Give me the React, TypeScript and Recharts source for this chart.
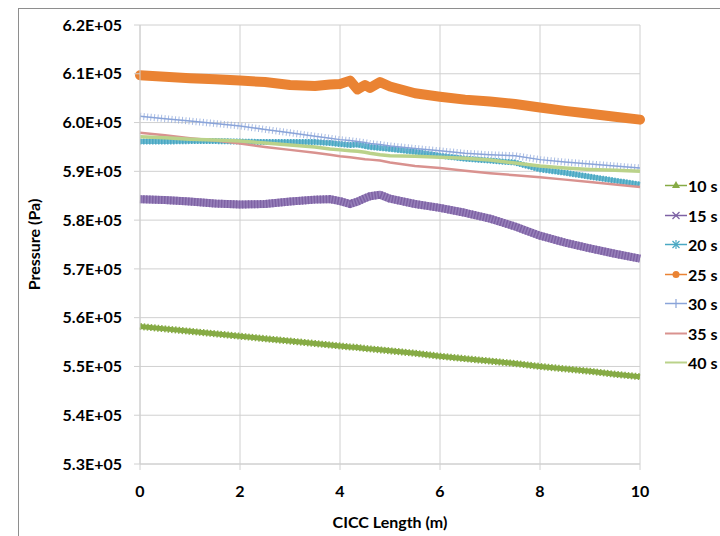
import React from "react";
import { LineChart, Line, XAxis, YAxis, CartesianGrid } from "recharts";

if (typeof document !== "undefined") {
  document.body.style.margin = "0";
  document.body.style.overflow = "hidden";
}

const xs = [0, 0.5, 1, 1.5, 2, 2.5, 3, 3.5, 3.8, 4, 4.2, 4.35, 4.5, 4.6, 4.8, 5, 5.5, 6, 6.5, 7, 7.5, 8, 8.5, 9, 9.5, 10];

const s10 = [558200, 557700, 557200, 556700, 556200, 555700, 555200, 554700, 554400, 554200, 554000, 553900, 553700, 553600, 553400, 553200, 552700, 552100, 551600, 551100, 550600, 550000, 549500, 549000, 548400, 547900];
const s15 = [584300, 584100, 583800, 583400, 583200, 583300, 583800, 584200, 584300, 583900, 583300, 583800, 584500, 584900, 585200, 584400, 583300, 582500, 581500, 580300, 578700, 576800, 575400, 574200, 573100, 572100];
const s20 = [596100, 596100, 596200, 596200, 596100, 596000, 596000, 596000, 595800, 595600, 595400, 595500, 595200, 595000, 594800, 594600, 594000, 593200, 592600, 592200, 591800, 590400, 589700, 588900, 588100, 587300];
const s25 = [609700, 609400, 609100, 608900, 608600, 608300, 607700, 607500, 607800, 607900, 608600, 606800, 607700, 607100, 608300, 607400, 606000, 605300, 604700, 604300, 603800, 603100, 602400, 601800, 601200, 600600];
const s30 = [601300, 600800, 600300, 599800, 599300, 598600, 597900, 597200, 596800, 596500, 596300, 596100, 595900, 595700, 595500, 595200, 594700, 594200, 593700, 593400, 593200, 592400, 591900, 591500, 591100, 590700];
const s35 = [597900, 597400, 596800, 596300, 595700, 595000, 594400, 593800, 593400, 593100, 592900, 592700, 592500, 592400, 592200, 591800, 591100, 590700, 590100, 589600, 589200, 588800, 588300, 587800, 587300, 586800];
const s40 = [597100, 596900, 596600, 596400, 596200, 595800, 595400, 595000, 594600, 594400, 594200, 594100, 593900, 593700, 593400, 593200, 593100, 592900, 592700, 592300, 591700, 591100, 590700, 590400, 590200, 590000];

const seriesNames = ["10 s", "15 s", "20 s", "25 s", "30 s", "35 s", "40 s"];
const xTicks = [0, 2, 4, 6, 8, 10];
const yTicks = [530000, 540000, 550000, 560000, 570000, 580000, 590000, 600000, 610000, 620000];

const data = xs.map((x, i) => ({
  x,
  s10: s10[i],
  s15: s15[i],
  s20: s20[i],
  s25: s25[i],
  s30: s30[i],
  s35: s35[i],
  s40: s40[i],
}));

const FONT = "Lato, 'Open Sans', sans-serif";
const C10 = "#86AB45";
const C15 = "#7E62A4";
const C20 = "#4AA8C3";
const C25 = "#EA8333";
const C30 = "#8AA4D9";
const C35 = "#D9928F";
const C40 = "#BAD28A";
const GRID = "#D0D0D0";

const fmt = (v: number) => (v / 100000).toFixed(1) + "E+05";

const YTitle = (props: any) => {
  const vb = props.viewBox || { x: 0, y: 0, width: 0, height: 0 };
  const cx = vb.x + 25;
  const cy = vb.y + vb.height / 2;
  return (
    <text x={cx} y={cy} transform={`rotate(-90 ${cx} ${cy})`} textAnchor="middle" dominantBaseline="central" fontFamily={FONT} fontWeight={700} fontSize={16} fill="#000">
      Pressure (Pa)
    </text>
  );
};

const XTitle = (props: any) => {
  const vb = props.viewBox || { x: 0, y: 0, width: 0, height: 0 };
  return (
    <text x={vb.x + vb.width / 2} y={vb.y + 64} textAnchor="middle" fontFamily={FONT} fontWeight={700} fontSize={16} fill="#000">
      CICC Length (m)
    </text>
  );
};

const markerFor = (i: number) => {
  switch (i) {
    case 0:
      return <polygon points="11,4 15,11 7,11" fill={C10} />;
    case 1:
      return (
        <g stroke={C15} strokeWidth={1.2}>
          <line x1={7.5} y1={5} x2={14.5} y2={12} />
          <line x1={14.5} y1={5} x2={7.5} y2={12} />
        </g>
      );
    case 2:
      return (
        <g stroke={C20} strokeWidth={1.2}>
          <line x1={7.5} y1={5} x2={14.5} y2={12} />
          <line x1={14.5} y1={5} x2={7.5} y2={12} />
          <line x1={11} y1={4} x2={11} y2={13} />
        </g>
      );
    case 3:
      return <circle cx={11} cy={8.5} r={3.5} fill={C25} />;
    case 4:
      return <line x1={11} y1={4} x2={11} y2={13} stroke={C30} strokeWidth={1.2} />;
    default:
      return null;
  }
};

const legendColors = [C10, C15, C20, C25, C30, C35, C40];

const Legend = () => (
  <div style={{ position: "absolute", left: 665, top: 171, display: "flex", flexDirection: "column", whiteSpace: "nowrap" }}>
    {seriesNames.map((n, i) => (
      <div key={n} style={{ height: 29.5, display: "flex", alignItems: "center", whiteSpace: "nowrap" }}>
        <svg width={22} height={17} style={{ display: "block", flex: "none" }}>
          <line x1={0} y1={8.5} x2={22} y2={8.5} stroke={legendColors[i]} strokeWidth={i >= 5 ? 2 : 1.5} />
          {markerFor(i)}
        </svg>
        <span style={{ fontFamily: FONT, fontWeight: 700, fontSize: 16, color: "#000", marginLeft: 1, lineHeight: "17px", whiteSpace: "nowrap" }}>{n}</span>
      </div>
    ))}
  </div>
);

export default function App() {
  return (
    <div style={{ position: "relative", width: 720, height: 536, overflow: "hidden", background: "#fff" }}>
      <div style={{ position: "absolute", left: 18, top: 8, width: 702, height: 528, borderTop: "1px solid #8E8E8E", borderLeft: "1px solid #8E8E8E", boxSizing: "border-box" }} />
      <div style={{ position: "absolute", left: 8, top: 8 }}>
        <LineChart width={712} height={528} data={data} margin={{ top: 17, right: 80, bottom: 0, left: 0 }}>
          <CartesianGrid stroke={GRID} />
          <XAxis
            dataKey="x"
            type="number"
            domain={[0, 10]}
            ticks={xTicks}
            height={72}
            tickSize={6}
            tickMargin={16}
            stroke={GRID}
            tick={{ fill: "#000", fontFamily: FONT, fontWeight: 700, fontSize: 16 }}
            label={<XTitle />}
          />
          <YAxis
            type="number"
            domain={[530000, 620000]}
            ticks={yTicks}
            width={132}
            tickSize={6}
            tickMargin={12}
            stroke={GRID}
            tickFormatter={fmt}
            tick={{ fill: "#000", fontFamily: FONT, fontWeight: 700, fontSize: 16 }}
            label={<YTitle />}
          />
          <Line dataKey="s10" stroke={C10} strokeWidth={5} dot={false} isAnimationActive={false} strokeLinejoin="round" />
          <Line dataKey="s10" stroke={C10} strokeWidth={7} strokeDasharray="1.5 2" dot={false} isAnimationActive={false} legendType="none" />
          <Line dataKey="s15" stroke="#9780BA" strokeWidth={8} dot={false} isAnimationActive={false} strokeLinejoin="round" />
          <Line dataKey="s15" stroke={C15} strokeWidth={8} strokeDasharray="1.5 1.5" dot={false} isAnimationActive={false} legendType="none" />
          <Line dataKey="s20" stroke="#6DBAD0" strokeWidth={5} dot={false} isAnimationActive={false} strokeLinejoin="round" />
          <Line dataKey="s20" stroke={C20} strokeWidth={6} strokeDasharray="1.5 1.5" dot={false} isAnimationActive={false} legendType="none" />
          <Line dataKey="s25" stroke={C25} strokeWidth={10} strokeLinecap="round" strokeLinejoin="round" dot={false} isAnimationActive={false} />
          <Line dataKey="s30" stroke={C30} strokeWidth={1.5} dot={false} isAnimationActive={false} />
          <Line dataKey="s30" stroke={C30} strokeWidth={7} strokeDasharray="1 2.5" strokeOpacity={0.75} dot={false} isAnimationActive={false} legendType="none" />
          <Line dataKey="s35" stroke={C35} strokeWidth={2.5} dot={false} isAnimationActive={false} />
          <Line dataKey="s40" stroke={C40} strokeWidth={3.5} dot={false} isAnimationActive={false} />
        </LineChart>
      </div>
      <Legend />
    </div>
  );
}
